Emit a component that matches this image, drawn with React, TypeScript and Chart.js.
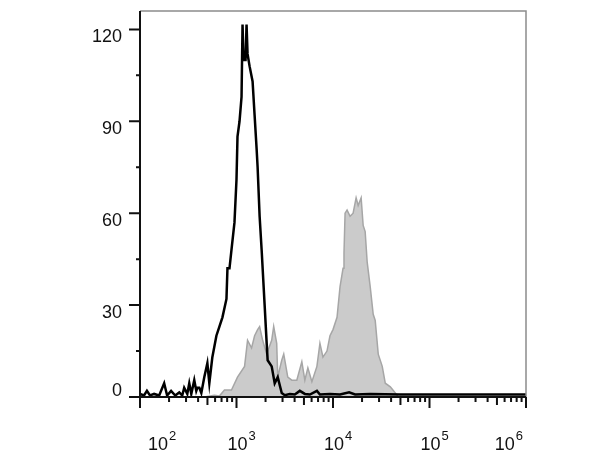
import React, { useEffect, useRef } from "react";
import { Chart, registerables } from "chart.js";

Chart.register(...registerables);

// Black outline histogram (unstained / isotype control)
const blackX = [
  100, 110, 118, 127, 140, 158, 178, 191, 210, 232, 255, 274, 287, 309, 324, 340,
  365, 383, 393, 412, 432, 464, 499, 523, 562, 619, 665, 715, 787, 806, 846,
  887, 953, 1000, 1024, 1075, 1128, 1155, 1183, 1241, 1271, 1302, 1366, 1468, 1540,
  1616, 1655, 1736, 1822, 1957, 2054, 2103, 2315, 2488, 2674, 2943, 3162, 3565, 4019,
  4531, 5109, 5759, 6813, 7320, 9306, 11830, 14680, 16950, 24290, 49880, 165500,
  549000, 1000000,
];
const blackY = [
  1, 0.5, 2, 0.5, 1, 0.5, 4.5, 0.5, 2, 0.5, 1.5, 0.5, 3, 1, 4.5, 1,
  5.5, 2, 3, 3, 1.3, 6.5, 11, 4.5, 13, 20, 23, 26, 32, 42, 42,
  48, 57, 71, 85, 90, 98, 121.6, 110, 110, 121.6, 112, 108, 103, 92,
  81, 75, 59, 48, 30, 17.6, 12, 10, 4.5, 6.5, 1.3, 0.6, 1, 0.8,
  2, 1, 0.8, 2, 0.8, 1, 0.8, 1.5, 0.8, 1, 0.8, 0.8,
  0.8, 0.8,
];

// Gray filled histogram (stained sample)
const grayX = [
  464, 590, 665, 750, 887, 1024, 1212, 1302, 1433, 1540, 1655, 1736, 1866, 2054,
  2315, 2429, 2610, 2674, 2943, 3087, 3399, 3741, 4217, 4754, 5109, 5490, 6043,
  6813, 7320, 7867, 8660, 9306, 10000, 11010, 11830, 12710, 13000, 13340, 13990,
  15030, 16160, 17360, 18220, 19570, 20540, 21540, 22610, 24290, 26100, 27380,
  29430, 32380, 34810, 39260, 44240, 47540,
];
const grayY = [
  0, 0.6, 0.3, 2.3, 2.3, 6.5, 10, 18.5, 16, 20, 22, 23, 18.5, 14,
  18.5, 23, 17.5, 6.5, 12, 14, 6.5, 5.5, 5.5, 11.5, 5.5, 9.5, 5,
  10, 17.5, 13, 15, 20, 22, 26, 36, 42, 47, 60, 61,
  59, 60, 65, 62.5, 65, 56, 54, 44, 36, 27, 25,
  14, 10, 4.5, 3.3, 1.3, 0,
];

const yMajorTicks = [0, 30, 60, 90, 120];
const yMinorTicks = [15, 45, 75, 105];
const xDecadeExponents = [2, 3, 4, 5, 6];
const xMinorMultipliers = [2, 3, 4, 5, 6, 7, 8, 9];

const FONT = '"Liberation Sans", Arial, Helvetica, sans-serif';

const axesPlugin = {
  id: "flowAxes",
  afterDraw(chart: any) {
    const { ctx, chartArea: a, scales } = chart;
    const xs = scales.x;
    const ys = scales.y;
    ctx.save();

    // top & right frame (thin gray)
    ctx.strokeStyle = "#8c8c8c";
    ctx.lineWidth = 1.5;
    ctx.beginPath();
    ctx.moveTo(a.left, a.top);
    ctx.lineTo(a.right, a.top);
    ctx.lineTo(a.right, a.bottom);
    ctx.stroke();

    // left & bottom axes (black)
    ctx.strokeStyle = "#111";
    ctx.lineWidth = 2;
    ctx.beginPath();
    ctx.moveTo(a.left, a.top);
    ctx.lineTo(a.left, a.bottom);
    ctx.lineTo(a.right, a.bottom);
    ctx.stroke();

    // y ticks
    ctx.lineWidth = 2;
    ctx.beginPath();
    yMajorTicks.forEach((v) => {
      const y = ys.getPixelForValue(v);
      ctx.moveTo(a.left - 11, y);
      ctx.lineTo(a.left, y);
    });
    yMinorTicks.forEach((v) => {
      const y = ys.getPixelForValue(v);
      ctx.moveTo(a.left - 4, y);
      ctx.lineTo(a.left, y);
    });
    ctx.stroke();

    // x ticks
    ctx.beginPath();
    xDecadeExponents.forEach((e) => {
      const x = xs.getPixelForValue(Math.pow(10, e));
      ctx.moveTo(x, a.bottom);
      ctx.lineTo(x, a.bottom + 11);
      if (e < xDecadeExponents[xDecadeExponents.length - 1]) {
        xMinorMultipliers.forEach((m) => {
          const xm = xs.getPixelForValue(m * Math.pow(10, e));
          ctx.moveTo(xm, a.bottom);
          ctx.lineTo(xm, a.bottom + (m === 5 ? 8 : 5));
        });
      }
    });
    ctx.stroke();

    // y labels
    ctx.fillStyle = "#111";
    ctx.font = `18px ${FONT}`;
    ctx.textAlign = "right";
    ctx.textBaseline = "middle";
    yMajorTicks.forEach((v) => {
      const y = ys.getPixelForValue(v);
      const yy = v === 0 ? y - 6 : y + 7.5;
      ctx.fillText(String(v), 122, yy);
    });

    // x labels: 10^e
    ctx.textAlign = "left";
    ctx.textBaseline = "alphabetic";
    xDecadeExponents.forEach((e) => {
      const x = xs.getPixelForValue(Math.pow(10, e));
      ctx.font = `18px ${FONT}`;
      const wBase = ctx.measureText("10").width;
      ctx.font = `13px ${FONT}`;
      const wExp = ctx.measureText(String(e)).width;
      const total = wBase + wExp + 1;
      let left = x - 9;
      if (left < a.left + 8) left = a.left + 8;
      if (left + total > a.right - 3) left = a.right - 3 - total;
      ctx.font = `18px ${FONT}`;
      ctx.fillText("10", left, 450);
      ctx.font = `13px ${FONT}`;
      ctx.fillText(String(e), left + wBase + 1, 440);
    });

    ctx.restore();
  },
};

export default function App() {
  const ref = useRef<HTMLCanvasElement | null>(null);

  useEffect(() => {
    if (!ref.current) return;
    const chart = new Chart(ref.current, {
      type: "line",
      data: {
        datasets: [
          {
            label: "Control",
            data: blackX.map((x, i) => ({ x, y: blackY[i] })),
            borderColor: "#000",
            borderWidth: 2.5,
            pointRadius: 0,
            fill: false,
            tension: 0,
            order: 0,
          },
          {
            label: "Stained",
            data: grayX.map((x, i) => ({ x, y: grayY[i] })),
            borderColor: "#a6a6a6",
            backgroundColor: "#cbcbcb",
            borderWidth: 1.5,
            pointRadius: 0,
            fill: "origin",
            tension: 0,
            order: 1,
          },
        ],
      },
      options: {
        animation: false,
        responsive: false,
        devicePixelRatio: 1,
        layout: { padding: { left: 140, right: 89, top: 11, bottom: 64 } },
        plugins: { legend: { display: false }, tooltip: { enabled: false } },
        scales: {
          x: { type: "logarithmic", min: 100, max: 1000000, display: false },
          y: { type: "linear", min: 0, max: 126, display: false },
        },
      },
      plugins: [axesPlugin],
    });
    return () => chart.destroy();
  }, []);

  return (
    <div style={{ position: "fixed", left: 0, top: 0, width: 615, height: 461, background: "#fff" }}>
      <canvas ref={ref} width={615} height={461} style={{ width: 615, height: 461 }} />
    </div>
  );
}
